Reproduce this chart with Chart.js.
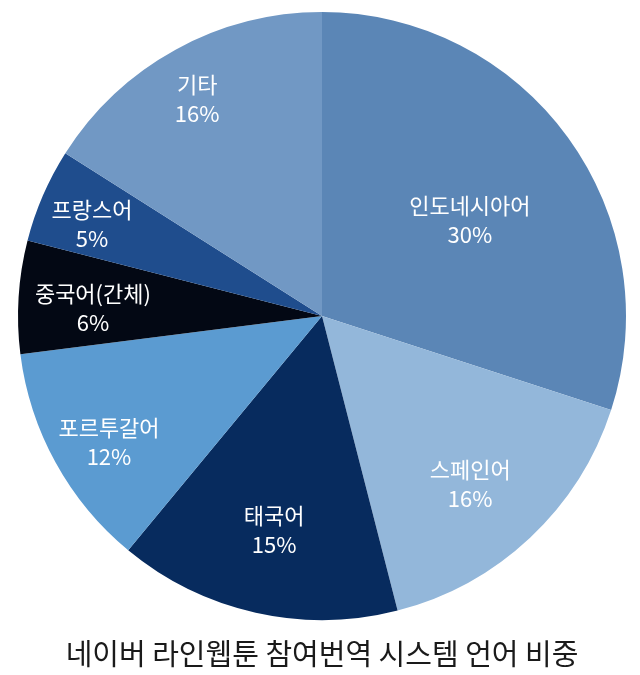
<!DOCTYPE html>
<html>
<head>
<meta charset="utf-8">
<script src="https://cdn.jsdelivr.net/npm/chart.js@4"></script>
<style>
html,body{margin:0;padding:0;background:#fff;}
#wrap{width:640px;height:675px;position:relative;}
</style>
</head>
<body>
<div id="wrap"><canvas id="c" width="640" height="675"></canvas></div>
<script>
const categories = ['인도네시아어', '스페인어', '태국어', '포르투갈어', '중국어(간체)', '프랑스어', '기타'];
const shares = [30, 16, 15, 12, 6, 5, 16];
const sliceColors = ['#5B86B6', '#93B7DA', '#072B5E', '#5B9BD1', '#030814', '#1F4D8D', '#7198C4'];
const labelRadius = [0.58, 0.737, 0.721, 0.814, 0.754, 0.815, 0.824];
const labelAngleShift = [3.0, 1.8, 0, -1.8, -1.6, -1.6, -1.1];
const chartTitle = '네이버 라인웹툰 참여번역 시스템 언어 비중';

const labelPlugin = {
  id: 'sliceLabels',
  afterDatasetsDraw(chart) {
    const ctx = chart.ctx;
    const meta = chart.getDatasetMeta(0);
    ctx.save();
    ctx.fillStyle = '#ffffff';
    ctx.textAlign = 'center';
    ctx.textBaseline = 'middle';
    ctx.font = '22px "Noto Sans CJK KR", "Noto Sans", sans-serif';
    meta.data.forEach((arc, i) => {
      const p = arc.getProps(['x', 'y', 'startAngle', 'endAngle', 'outerRadius'], true);
      const mid = (p.startAngle + p.endAngle) / 2 + labelAngleShift[i] * Math.PI / 180;
      const r = p.outerRadius * labelRadius[i];
      const x = p.x + Math.cos(mid) * r;
      const y = p.y + Math.sin(mid) * r;
      ctx.fillText(categories[i], x, y - 14.5);
      ctx.fillText(shares[i] + '%', x, y + 14.5);
    });
    ctx.restore();
  }
};

new Chart(document.getElementById('c'), {
  type: 'pie',
  data: {
    labels: categories,
    datasets: [{
      data: shares,
      backgroundColor: sliceColors,
      borderWidth: 0
    }]
  },
  options: {
    responsive: false,
    animation: false,
    layout: { padding: { top: 12, left: 18, right: 14, bottom: 0 } },
    plugins: {
      legend: { display: false },
      tooltip: { enabled: false },
      title: {
        display: true,
        text: chartTitle,
        position: 'bottom',
        color: '#1a1a1a',
        font: { family: '"Noto Sans CJK KR", sans-serif', size: 29, weight: 'normal', lineHeight: 1.2 },
        padding: { top: 16, bottom: 4 }
      }
    }
  },
  plugins: [labelPlugin]
});
</script>
</body>
</html>
